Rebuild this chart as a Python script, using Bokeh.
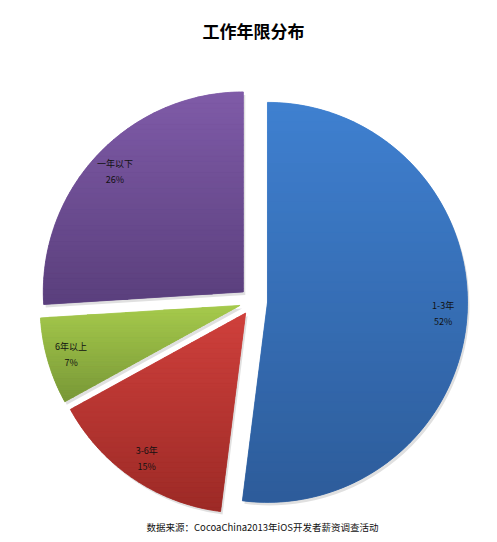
import numpy as np
from bokeh.plotting import figure
from bokeh.models import Range1d
from bokeh.core.properties import value
from bokeh.embed import file_html
from bokeh.resources import INLINE

title_text = "工作年限分布"
footer_text = "数据来源：CocoaChina2013年iOS开发者薪资调查活动"
categories = ["1-3年", "3-6年", "6年以上", "一年以下"]
values = [52, 15, 7, 26]
pct_labels = ["52%", "15%", "7%", "26%"]
top_colors = ["#3f80d0", "#cf403c", "#a6ca4c", "#7f5ba8"]
bottom_colors = ["#2d5c9a", "#9c2a26", "#789737", "#5a3f7c"]

W, H = 481, 534
FONT = "Noto Sans CJK SC"

p = figure(width=W, height=H, output_backend="svg", toolbar_location=None,
           x_range=Range1d(0, W), y_range=Range1d(0, H), min_border=0)
p.axis.visible = False
p.grid.visible = False
p.outline_line_color = None
p.background_fill_color = "white"

cx, cy, R, explode = 253.0, H - 301.0, 200.0, 14.0


def hex2rgb(h):
    h = h.lstrip("#")
    return np.array([int(h[i:i + 2], 16) for i in (0, 2, 4)], dtype=float)


def rgb2hex(c):
    return "#%02x%02x%02x" % tuple(int(round(v)) for v in c)


def clip(poly, y0, y1):
    def clip_half(pts, keep, inter):
        out = []
        n = len(pts)
        for i in range(n):
            a, b = pts[i], pts[(i + 1) % n]
            ka, kb = keep(a), keep(b)
            if ka:
                out.append(a)
                if not kb:
                    out.append(inter(a, b))
            elif kb:
                out.append(inter(a, b))
        return out

    def mk_inter(yc):
        def f(a, b):
            t = (yc - a[1]) / (b[1] - a[1])
            return (a[0] + t * (b[0] - a[0]), yc)
        return f

    pts = clip_half(poly, lambda q: q[1] >= y0, mk_inter(y0))
    if not pts:
        return []
    pts = clip_half(pts, lambda q: q[1] <= y1, mk_inter(y1))
    return pts


total = float(sum(values))
start_cw = 0.0
for i, v in enumerate(values):
    span = 360.0 * v / total
    th1, th2 = start_cw, start_cw + span
    mid = np.radians((th1 + th2) / 2)
    dx, dy = np.sin(mid), np.cos(mid)
    vx, vy = cx + explode * dx, cy + explode * dy
    a_start = np.radians(90 - th2)
    a_end = np.radians(90 - th1)

    # shadow
    p.wedge(x=[vx + 2], y=[vy - 3], radius=R, start_angle=[a_start], end_angle=[a_end],
            fill_color="#000000", fill_alpha=0.12, line_color=None)
    # base slice
    p.wedge(x=[vx], y=[vy], radius=R, start_angle=[a_start], end_angle=[a_end],
            fill_color=top_colors[i], line_color=None)

    # gradient overlay (top light -> bottom dark)
    angs = np.linspace(a_start, a_end, 120)
    poly = [(vx, vy)] + [(vx + R * np.cos(a), vy + R * np.sin(a)) for a in angs]
    ys = [q[1] for q in poly]
    ymin, ymax = min(ys), max(ys)
    nb = 40
    edges = np.linspace(ymin, ymax, nb + 1)
    c_top, c_bot = hex2rgb(top_colors[i]), hex2rgb(bottom_colors[i])
    xs_l, ys_l, cols = [], [], []
    for b in range(nb):
        seg = clip(poly, edges[b], edges[b + 1])
        if len(seg) < 3:
            continue
        t = 1 - (b + 0.5) / nb
        col = rgb2hex(c_top + (c_bot - c_top) * t)
        xs_l.append([q[0] for q in seg])
        ys_l.append([q[1] for q in seg])
        cols.append(col)
    p.patches(xs=xs_l, ys=ys_l, fill_color=cols, line_color=cols, line_width=0.8)

    # labels
    lx, ly = vx + 0.88 * R * dx, vy + 0.88 * R * dy
    p.text(x=[lx], y=[ly + 8], text=[categories[i]], text_align="center",
           text_baseline="middle", text_font=value(FONT), text_font_size="9px",
           text_color="#111111")
    p.text(x=[lx], y=[ly - 8], text=[pct_labels[i]], text_align="center",
           text_baseline="middle", text_font=value(FONT), text_font_size="9px",
           text_color="#111111")
    start_cw = th2

p.text(x=[253], y=[H - 30], text=[title_text], text_align="center",
       text_baseline="middle", text_font=value(FONT), text_font_size="17px",
       text_font_style="bold", text_color="#000000")
p.text(x=[262], y=[H - 526], text=[footer_text], text_align="center",
       text_baseline="middle", text_font=value(FONT), text_font_size="9.5px",
       text_color="#111111")

open("out.html", "w").write(file_html(p, INLINE))
